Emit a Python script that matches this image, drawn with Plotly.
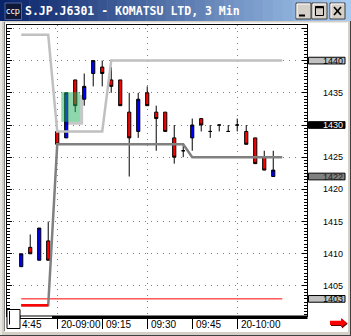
import plotly.graph_objects as go

# ---------------- data ----------------
idx = list(range(-4, 25))
times = ["14:48", "14:51", "14:54", "14:57",
         "09:00", "09:03", "09:06", "09:09", "09:12", "09:15", "09:18", "09:21",
         "09:24", "09:27", "09:30", "09:33", "09:36", "09:39", "09:42", "09:45",
         "09:48", "09:51", "09:54", "09:57", "10:00", "10:03", "10:06", "10:09", "10:12"]
opens  = [1408, 1411, 1409, 1412, 1429, 1428, 1437, 1434, 1438, 1439, 1437, 1437, 1432, 1429, 1435,
          1432, 1432, 1428, 1426, 1428, 1431, 1429, 1430, 1429, 1430, 1429, 1428, 1425, 1422]
highs  = [1410, 1413, 1414, 1415, 1429, 1435, 1437, 1438, 1440, 1440, 1439, 1437, 1435, 1435, 1436,
          1433, 1432, 1430, 1427, 1431, 1431, 1430, 1430, 1430, 1431, 1430, 1428, 1426, 1426]
lows   = [1408, 1410, 1409, 1409, 1427, 1428, 1432, 1433, 1436, 1436, 1435, 1433, 1422, 1428, 1433,
          1426, 1429, 1424, 1425, 1426, 1429, 1428, 1429, 1429, 1429, 1427, 1424, 1423, 1422]
closes = [1410, 1410, 1414, 1409, 1427, 1435, 1433, 1436, 1440, 1438, 1436, 1433, 1428, 1434, 1433,
          1431, 1429, 1425, 1426, 1430, 1430, 1429, 1430, 1429, 1430, 1427, 1424, 1423, 1423]

upper_x = [-4, -1, 0, 5, 6, 25]
upper_y = [1444, 1444, 1429, 1429, 1440, 1440]
lower_x = [-4, -1, 0, 14, 15, 25]
lower_y = [1402, 1402, 1427, 1427, 1425, 1425]
prev_x = [-4, -1]
prev_y = [1402, 1402]
ref_x = [-4, 25]
ref_y = [1403, 1403]
zone_x = [0.45, 2.55]
zone_y = [1430.5, 1435.1]

tick_idx = [-5, 0, 5, 10, 15, 20]
tick_text = ["4:45", "20-09:00", "09:15", "09:30", "09:45", "20-10:00"]
grid_idx = [0, 10, 20]
price_labels = [1435, 1425, 1420, 1415, 1410, 1405]
marker_prices = [1440, 1430, 1422, 1403]
marker_fill = ["#c0c0c0", "#000000", "#808080", "#c0c0c0"]
marker_font = ["#000000", "#ffffff", "#202020", "#000000"]

title_text = "S.JP.J6301 - KOMATSU LTD, 3 Min"

# ---------------- geometry helpers (pixel -> paper) ----------------
W, H = 351, 336
L, R, T, B = 7, 307, 25, 316
def px(x):
    return (x - L) / (R - L)
def py(y):
    return (B - y) / (B - T)

fig = go.Figure()

fig.add_trace(go.Candlestick(
    x=idx, open=opens, high=highs, low=lows, close=closes,
    text=times, hoverinfo="skip", whiskerwidth=0,
    increasing=dict(fillcolor="#0000ff", line=dict(color="black", width=1)),
    decreasing=dict(fillcolor="#ff0000", line=dict(color="black", width=1)),
    showlegend=False))

fig.add_trace(go.Scatter(x=ref_x, y=ref_y, mode="lines",
                         line=dict(color="#ff0000", width=1), hoverinfo="skip", showlegend=False))
fig.add_trace(go.Scatter(x=upper_x, y=upper_y, mode="lines",
                         line=dict(color="#c0c0c0", width=2.5), hoverinfo="skip", showlegend=False))
fig.add_trace(go.Scatter(x=lower_x, y=lower_y, mode="lines",
                         line=dict(color="#808080", width=2.5), hoverinfo="skip", showlegend=False))
fig.add_trace(go.Scatter(x=prev_x, y=prev_y, mode="lines",
                         line=dict(color="#ff0000", width=2.5), hoverinfo="skip", showlegend=False))

shapes = []
# window interior (white) and frame
shapes.append(dict(type="rect", xref="paper", yref="paper", x0=px(5), x1=px(347), y0=py(22.5), y1=py(331),
                    fillcolor="white", line=dict(width=0), layer="below"))
shapes.append(dict(type="line", xref="paper", yref="paper", x0=px(4.5), x1=px(4.5), y0=py(22), y1=py(331),
                    line=dict(color="#808080", width=1), layer="below"))
shapes.append(dict(type="line", xref="paper", yref="paper", x0=px(1), x1=px(1), y0=py(21), y1=py(335),
                    line=dict(color="#ffffff", width=1), layer="below"))
shapes.append(dict(type="line", xref="paper", yref="paper", x0=px(347.5), x1=px(347.5), y0=py(22), y1=py(331.5),
                    line=dict(color="#ffffff", width=1), layer="below"))
shapes.append(dict(type="line", xref="paper", yref="paper", x0=px(4.5), x1=px(347.5), y0=py(331.5), y1=py(331.5),
                    line=dict(color="#ffffff", width=1), layer="below"))
shapes.append(dict(type="line", xref="paper", yref="paper", x0=px(0), x1=px(351), y0=py(335.5), y1=py(335.5),
                    line=dict(color="#404040", width=1), layer="below"))
shapes.append(dict(type="line", xref="paper", yref="paper", x0=px(350.5), x1=px(350.5), y0=py(21), y1=py(336),
                    line=dict(color="#404040", width=1), layer="below"))

# title bar gradient
c0 = (10, 36, 106)
c1 = (166, 202, 240)
n = 36
for i in range(n):
    t = i / (n - 1)
    col = "rgb(%d,%d,%d)" % tuple(round(a + (b - a) * t) for a, b in zip(c0, c1))
    shapes.append(dict(type="rect", xref="paper", yref="paper", x0=px(i * W / n), x1=px((i + 1) * W / n + 0.5),
                        y0=py(21), y1=py(0), fillcolor=col, line=dict(width=0), layer="below"))
# icon
shapes.append(dict(type="rect", xref="paper", yref="paper", x0=px(5), x1=px(21.5), y0=py(19.5), y1=py(3),
                    fillcolor="#101838", line=dict(color="#5060a0", width=1), layer="below"))
# buttons
for bx in [296, 312, 330]:
    shapes.append(dict(type="rect", xref="paper", yref="paper", x0=px(bx), x1=px(bx + 15), y0=py(19), y1=py(3),
                        fillcolor="#d4d0c8", line=dict(color="#404040", width=1), layer="below"))
    shapes.append(dict(type="path", xref="paper", yref="paper",
                        path="M%f,%f L%f,%f L%f,%f" % (px(bx + 1), py(18), px(bx + 1), py(4), px(bx + 14), py(4)),
                        line=dict(color="#ffffff", width=1), layer="below"))
shapes.append(dict(type="line", xref="paper", yref="paper", x0=px(299), x1=px(305), y0=py(15.5), y1=py(15.5),
                    line=dict(color="black", width=2), layer="below"))
shapes.append(dict(type="rect", xref="paper", yref="paper", x0=px(315.5), x1=px(323.5), y0=py(15.5), y1=py(6.5),
                    line=dict(color="black", width=1), layer="below"))
shapes.append(dict(type="line", xref="paper", yref="paper", x0=px(315.5), x1=px(323.5), y0=py(7.5), y1=py(7.5),
                    line=dict(color="black", width=1.5), layer="below"))
shapes.append(dict(type="line", xref="paper", yref="paper", x0=px(334), x1=px(341), y0=py(7), y1=py(15),
                    line=dict(color="black", width=1.6), layer="below"))
shapes.append(dict(type="line", xref="paper", yref="paper", x0=px(334), x1=px(341), y0=py(15), y1=py(7),
                    line=dict(color="black", width=1.6), layer="below"))

# highlighted zone with shadow
sx0, sx1 = zone_x[0] + 0.33, zone_x[1] + 0.33
sy0, sy1 = zone_y[0] - 0.45, zone_y[1] - 0.45
shapes.append(dict(type="path", xref="x", yref="y",
                    path="M%f,%f L%f,%f L%f,%f L%f,%f L%f,%f L%f,%f Z" % (
                        zone_x[1], sy1, sx1, sy1, sx1, sy0, sx0, sy0, sx0, zone_y[0], zone_x[1], zone_y[0]),
                    fillcolor="rgba(0,0,0,0.22)", line=dict(width=0), layer="above"))
shapes.append(dict(type="rect", xref="x", yref="y", x0=zone_x[0], x1=zone_x[1], y0=zone_y[0], y1=zone_y[1],
                    fillcolor="rgba(30,175,90,0.5)", line=dict(width=0), layer="above"))

# bottom scroll bar & corner box
shapes.append(dict(type="rect", xref="paper", yref="paper", x0=px(7), x1=px(307.5), y0=py(319), y1=py(315.5),
                    fillcolor="black", line=dict(width=0), layer="above"))
shapes.append(dict(type="rect", xref="paper", yref="paper", x0=px(20.5), x1=px(52), y0=py(318), y1=py(316.5),
                    fillcolor="white", line=dict(width=0), layer="above"))
shapes.append(dict(type="rect", xref="paper", yref="paper", x0=px(7), x1=px(20), y0=py(328.5), y1=py(309.5),
                    fillcolor="white", line=dict(color="black", width=1), layer="above"))
shapes.append(dict(type="line", xref="paper", yref="paper", x0=px(9.5), x1=px(9.5), y0=py(324.5), y1=py(311),
                    line=dict(color="black", width=1), layer="above"))

# red arrow (bottom right)
def arrow_path(dx, dy):
    pts = [(330, 320.7), (341, 320.7), (341, 318), (346.7, 322.8), (341, 327.6), (341, 325), (330, 325)]
    return "M" + " L".join("%f,%f" % (px(a + dx), py(b + dy)) for a, b in pts) + " Z"
shapes.append(dict(type="path", xref="paper", yref="paper", path=arrow_path(1, 1),
                    fillcolor="#600000", line=dict(width=0), layer="above"))
shapes.append(dict(type="path", xref="paper", yref="paper", path=arrow_path(0, 0),
                    fillcolor="#ff0000", line=dict(width=0), layer="above"))

# right-axis marker boxes
for p, fc in zip(marker_prices, marker_fill):
    shapes.append(dict(type="rect", xref="paper", yref="y", x0=px(308.5), x1=px(345), y0=p - 0.52, y1=p + 0.52,
                        fillcolor=fc, line=dict(color="black", width=1), layer="above"))

annotations = []
annotations.append(dict(xref="paper", yref="paper", x=px(23), y=py(11), xanchor="left", yanchor="middle",
                         text="<b>" + title_text + "</b>", showarrow=False,
                         font=dict(family="DejaVu Sans Mono", size=11.5, color="white")))
annotations.append(dict(xref="paper", yref="paper", x=px(13.3), y=py(11.5), xanchor="center", yanchor="middle",
                         text="ccp", showarrow=False,
                         font=dict(family="DejaVu Sans", size=8, color="white")))
for i, (v, t) in enumerate(zip(tick_idx, tick_text)):
    annotations.append(dict(xref="x", yref="paper", x=v, y=py(325), xanchor="left", yanchor="middle",
                             xshift=8 if i == 0 else 2, text=t, showarrow=False,
                             font=dict(family="Liberation Sans", size=10, color="black")))
for p in price_labels:
    annotations.append(dict(xref="paper", yref="y", x=px(344.5), y=p, xanchor="right", yanchor="middle",
                             text=str(p), showarrow=False,
                             font=dict(family="Liberation Sans", size=9, color="black")))
for p, fcol in zip(marker_prices, marker_font):
    annotations.append(dict(xref="paper", yref="y", x=px(344.5), y=p, xanchor="right", yanchor="middle",
                             text=str(p), showarrow=False,
                             font=dict(family="Liberation Sans", size=9, color=fcol)))

fig.update_layout(
    width=W, height=H, autosize=False,
    margin=dict(l=L, r=W - R, t=T, b=H - B, pad=0),
    paper_bgcolor="#d4d0c8", plot_bgcolor="white",
    showlegend=False, boxgap=0.5,
    shapes=shapes, annotations=annotations,
    xaxis=dict(range=[-5.58, 27.75], rangeslider=dict(visible=False),
               tickmode="array", tickvals=grid_idx, showticklabels=False,
               ticks="outside", ticklen=12, tickcolor="black", tickwidth=1,
               showgrid=True, gridcolor="#808080", gridwidth=1, griddash="1px,5px",
               minor=dict(tickmode="array", tickvals=[-5, 5, 15], ticks="outside", ticklen=12,
                          tickcolor="black", tickwidth=1, showgrid=False),
               showline=True, linecolor="black", linewidth=1, mirror=True, zeroline=False,
               fixedrange=True),
    yaxis=dict(range=[1400.34, 1445.53], side="right",
               tickmode="linear", tick0=1405, dtick=5, showticklabels=False,
               ticks="inside", ticklen=5, tickcolor="black", tickwidth=1,
               minor=dict(dtick=0.5, ticks="inside", ticklen=3, tickcolor="black", showgrid=False),
               showgrid=True, gridcolor="#808080", gridwidth=1, griddash="1px,5px",
               showline=True, linecolor="black", linewidth=1, mirror="ticks", zeroline=False,
               fixedrange=True),
)

fig.write_html("out.html")
